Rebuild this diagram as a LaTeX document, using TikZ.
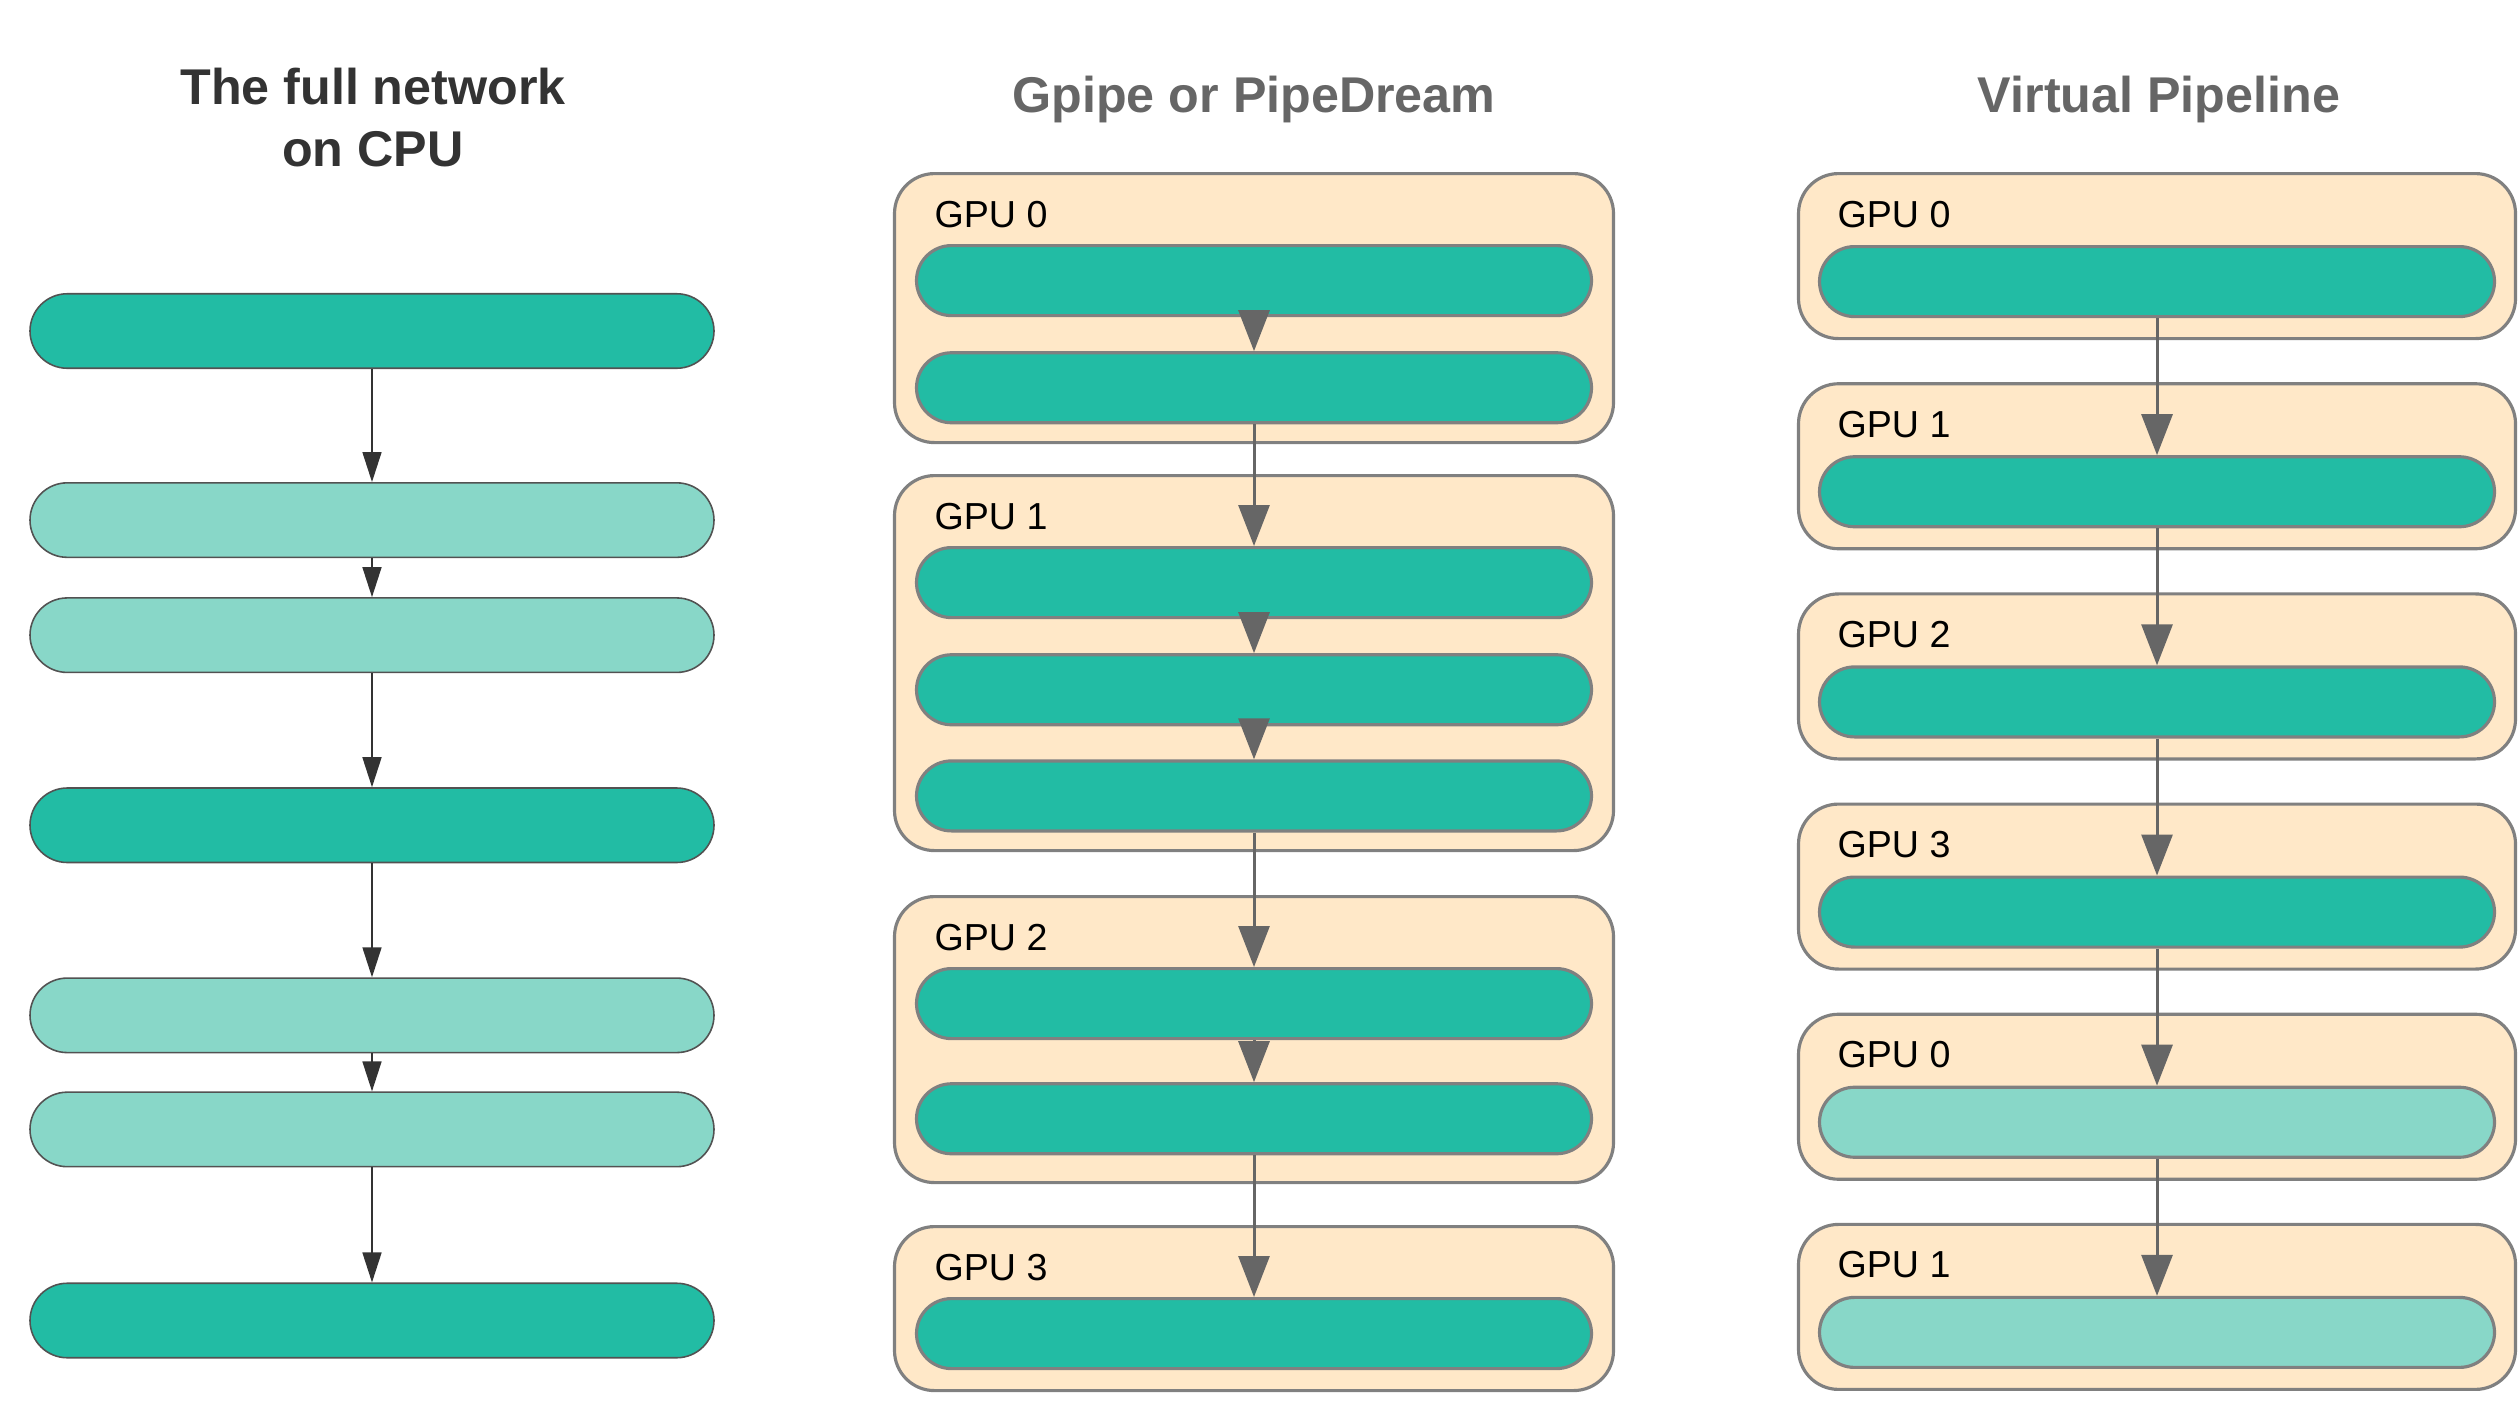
\documentclass[tikz,border=0pt]{standalone}
\usepackage{fontspec}
\setmainfont{Liberation Sans}
\usepackage{tikz}
\usepackage{xcolor}
\usetikzlibrary{calc,positioning,arrows.meta,shapes.misc}
\definecolor{layerdark}{HTML}{22BCA4}
\definecolor{layerlight}{HTML}{88D7C8}
\definecolor{gpufill}{HTML}{FFE8C8}
\definecolor{gpuline}{HTML}{808080}
\definecolor{arrowgray}{HTML}{666666}
\definecolor{titlegray}{HTML}{666666}
\definecolor{titledark}{HTML}{333333}
\tikzset{
  cpulayer/.style={
    rounded rectangle,
    draw=titledark!85, line width=0.45pt,
    minimum width=6.84cm,
    minimum height=0.745cm,
    inner sep=0pt},
  gpulayer/.style={
    rounded rectangle,
    draw=gpuline, line width=0.9pt,
    minimum width=6.75cm,
    minimum height=0.70cm,
    inner sep=0pt},
  gpubox/.style={
    rectangle,
    rounded corners=0.4cm,
    draw=gpuline, fill=gpufill, line width=0.9pt,
    minimum width=7.19cm,
    inner sep=0pt, anchor=north},
  gpulabel/.style={anchor=base west, inner sep=0pt, font=\fontsize{10.7}{12}\selectfont},
  coltitle/.style={align=center, text=titlegray, font=\fontsize{14.3}{17.6}\selectfont\bfseries},
}
\begin{document}
\begin{tikzpicture}[x=1cm,y=1cm]
    \useasboundingbox (0,0) rectangle (25.2,-14.2);
    \tikzset{
        dark/.style={fill=layerdark},
        light/.style={fill=layerlight},
        myarrow/.style={draw=arrowgray, line width=0.85pt, -{Triangle[length=0.41cm,width=0.31cm]}},
        cpuarrow/.style={draw=titledark, line width=0.45pt, -{Triangle[length=0.3cm,width=0.19cm]}},
    }
    % full network on the CPU
    \node[coltitle, text=titledark, anchor=base] (cputitle) at (3.73,-1.66) {The full network\\on CPU};
    \node[cpulayer, dark] (cpu1) at (3.72,-3.31) {};
    \node[cpulayer, light, below=1.13cm of cpu1] (cpu2) {};
    \node[cpulayer, light, below=0.39cm of cpu2] (cpu3) {};
    \node[cpulayer, dark, below=1.14cm of cpu3] (cpu4) {};
    \node[cpulayer, light, below=1.14cm of cpu4] (cpu5) {};
    \node[cpulayer, light, below=0.38cm of cpu5] (cpu6) {};
    \node[cpulayer, dark, below=1.15cm of cpu6] (cpu7) {};

    % gpipe / pipedream
    \node[coltitle, anchor=base] (pipetitle) at (12.54,-1.12) {Gpipe or PipeDream};
    \node[gpubox, minimum height=2.69cm] (p0) at (12.54,-1.72) {};
    \node[gpubox, minimum height=3.75cm] (p1) at (12.54,-4.74) {};
    \node[gpubox, minimum height=2.86cm] (p2) at (12.54,-8.95) {};
    \node[gpubox, minimum height=1.64cm] (p3) at (12.54,-12.25) {};
      \node[gpulabel] (p0label) at ($(p0.north west)+(0.41,-0.55)$) {GPU 0};
      \node[gpulabel] (p1label) at ($(p1.north west)+(0.41,-0.55)$) {GPU 1};
      \node[gpulabel] (p2label) at ($(p2.north west)+(0.41,-0.55)$) {GPU 2};
      \node[gpulabel] (p3label) at ($(p3.north west)+(0.41,-0.55)$) {GPU 3};
      \node[gpulayer, dark, below=0.72cm of p0.north] (p0a) {};
      \node[gpulayer, dark, below=0.34cm of p0a] (p0b) {};
      \node[gpulayer, dark, below=0.72cm of p1.north] (p1a) {};
      \node[gpulayer, dark, below=0.34cm of p1a] (p1b) {};
      \node[gpulayer, dark, below=0.33cm of p1b] (p1c) {};
      \node[gpulayer, dark, below=0.72cm of p2.north] (p2a) {};
      \node[gpulayer, dark, below=0.42cm of p2a] (p2b) {};
      \node[gpulayer, dark, below=0.72cm of p3.north] (p3a) {};

    % virtual pipeline
    \node[coltitle, anchor=base] (virttitle) at (21.59,-1.12) {Virtual Pipeline};
    \node[gpubox, minimum width=7.17cm, minimum height=1.65cm] (v0) at (21.57,-1.72) {};
    \node[gpubox, minimum width=7.17cm, minimum height=1.65cm, below=0.42cm of v0] (v1) {};
    \node[gpubox, minimum width=7.17cm, minimum height=1.65cm, below=0.42cm of v1] (v2) {};
    \node[gpubox, minimum width=7.17cm, minimum height=1.65cm, below=0.42cm of v2] (v3) {};
    \node[gpubox, minimum width=7.17cm, minimum height=1.65cm, below=0.42cm of v3] (v4) {};
    \node[gpubox, minimum width=7.17cm, minimum height=1.65cm, below=0.42cm of v4] (v5) {};
      \node[gpulabel] (v0label) at ($(v0.north west)+(0.40,-0.55)$) {GPU 0};
      \node[gpulabel] (v1label) at ($(v1.north west)+(0.40,-0.55)$) {GPU 1};
      \node[gpulabel] (v2label) at ($(v2.north west)+(0.40,-0.55)$) {GPU 2};
      \node[gpulabel] (v3label) at ($(v3.north west)+(0.40,-0.55)$) {GPU 3};
      \node[gpulabel] (v4label) at ($(v4.north west)+(0.40,-0.55)$) {GPU 0};
      \node[gpulabel] (v5label) at ($(v5.north west)+(0.40,-0.55)$) {GPU 1};
      \node[gpulayer, dark, below=0.73cm of v0.north] (v0a) {};
      \node[gpulayer, dark, below=0.73cm of v1.north] (v1a) {};
      \node[gpulayer, dark, below=0.73cm of v2.north] (v2a) {};
      \node[gpulayer, dark, below=0.73cm of v3.north] (v3a) {};
      \node[gpulayer, light, below=0.73cm of v4.north] (v4a) {};
      \node[gpulayer, light, below=0.73cm of v5.north] (v5a) {};

    \path[cpuarrow] (cpu1.south) -- (cpu2.north);
    \path[cpuarrow] (cpu2.south) -- (cpu3.north);
    \path[cpuarrow] (cpu3.south) -- (cpu4.north);
    \path[cpuarrow] (cpu4.south) -- (cpu5.north);
    \path[cpuarrow] (cpu5.south) -- (cpu6.north);
    \path[cpuarrow] (cpu6.south) -- (cpu7.north);

    \path[myarrow] (p0a.south) -- (p0b.north);
    \path[myarrow] (p0b.south) -- (p1a.north);
    \path[myarrow] (p1a.south) -- (p1b.north);
    \path[myarrow] (p1b.south) -- (p1c.north);
    \path[myarrow] (p1c.south) -- (p2a.north);
    \path[myarrow] (p2a.south) -- (p2b.north);
    \path[myarrow] (p2b.south) -- (p3a.north);

    \path[myarrow] (v0a.south) -- (v1a.north);
    \path[myarrow] (v1a.south) -- (v2a.north);
    \path[myarrow] (v2a.south) -- (v3a.north);
    \path[myarrow] (v3a.south) -- (v4a.north);
    \path[myarrow] (v4a.south) -- (v5a.north);
\end{tikzpicture}
\end{document}
